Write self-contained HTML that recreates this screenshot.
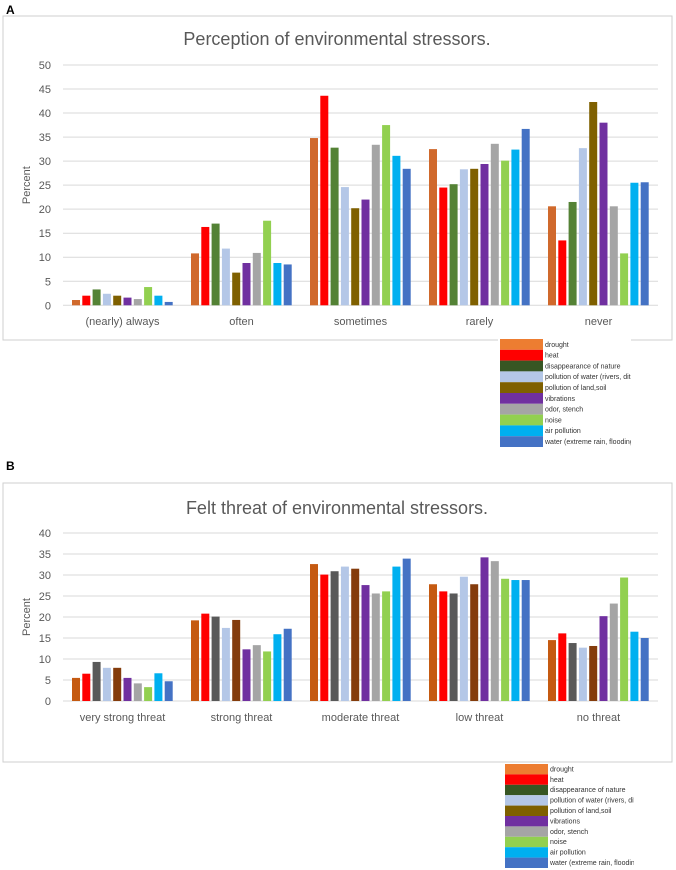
<!DOCTYPE html>
<html><head><meta charset="utf-8"><style>
body{margin:0;background:#fff;}
svg{display:block;font-family:"Liberation Sans",sans-serif;}
</style></head><body>
<svg id="s" width="676" height="870" viewBox="0 0 676 870">
<defs>
<clipPath id="cla"><rect x="498" y="337" width="133" height="112"/></clipPath>
<clipPath id="clb"><rect x="503" y="762" width="131" height="108"/></clipPath>
</defs>
<text x="6" y="14" font-size="12" font-weight="bold">A</text>
<text x="6" y="470" font-size="12" font-weight="bold">B</text>
<rect x="3" y="16" width="669" height="324" fill="#fff" stroke="#cfcfcf"/>
<rect x="3" y="483" width="669" height="279" fill="#fff" stroke="#cfcfcf"/>
<text x="337" y="45" text-anchor="middle" font-size="18" fill="#595959">Perception of environmental stressors.</text>
<text x="337" y="514" text-anchor="middle" font-size="18" fill="#595959">Felt threat of environmental stressors.</text>
<g id="ga"></g><g id="gb"></g><g id="la" clip-path="url(#cla)"></g><g id="lb" clip-path="url(#clb)"></g>
</svg>
<script>
const seriesNames=["drought","heat","disappearance of nature","pollution of water (rivers, ditches)","pollution of land,soil","vibrations","odor, stench","noise","air pollution","water (extreme rain, flooding)"];
const catsA=["(nearly) always","often","sometimes","rarely","never"];
const catsB=["very strong threat","strong threat","moderate threat","low threat","no threat"];
const valsA=[
[1.1,2.0,3.3,2.4,2.0,1.6,1.3,3.8,2.0,0.7],
[10.8,16.3,17,11.8,6.8,8.8,10.9,17.6,8.8,8.5],
[34.8,43.6,32.8,24.6,20.2,22,33.4,37.5,31.1,28.4],
[32.5,24.5,25.2,28.3,28.4,29.4,33.6,30.1,32.4,36.7],
[20.6,13.5,21.5,32.7,42.3,38,20.6,10.8,25.5,25.6]];
const valsB=[
[5.5,6.5,9.3,7.9,7.9,5.5,4.2,3.3,6.6,4.7],
[19.2,20.8,20.1,17.4,19.3,12.3,13.3,11.8,15.9,17.2],
[32.6,30.1,30.9,32,31.5,27.6,25.6,26.1,32,33.9],
[27.8,26.1,25.6,29.6,27.8,34.2,33.3,29.1,28.8,28.8],
[14.5,16.1,13.8,12.7,13.1,20.2,23.2,29.4,16.5,15]];
const ticksA=[0,5,10,15,20,25,30,35,40,45,50];
const ticksB=[0,5,10,15,20,25,30,35,40];
const colA=["#D0692C","#FF0000","#548235","#B4C7E7","#7F6000","#7030A0","#A5A5A5","#92D050","#00B0F0","#4472C4"];
const colB=["#C55A11","#FF0000","#595959","#B4C7E7","#843C0C","#7030A0","#A5A5A5","#92D050","#00B0F0","#4472C4"];
const colL=["#ED7D31","#FF0000","#375623","#B4C7E7","#7F6000","#7030A0","#A5A5A5","#92D050","#00B0F0","#4472C4"];
const NS="http://www.w3.org/2000/svg";
function mk(g,t,a){const e=document.createElementNS(NS,t);for(const k in a)e.setAttribute(k,a[k]);g.appendChild(e);return e;}
function chart(gid,cats,vals,ticks,cols,y0,yTop,labY,tag){
 const g=document.getElementById(gid);const x0=63,x1=658,max=ticks[ticks.length-1];
 const y=v=>y0-(v/max)*(y0-yTop);
 ticks.forEach(t=>{
  const l=mk(g,"line",{x1:x0,x2:x1,y1:y(t),y2:y(t),stroke:"#d9d9d9","stroke-width":1});
  
  
  const tx=mk(g,"text",{x:51,y:y(t)+4,"text-anchor":"end","font-size":11,fill:"#595959"});tx.textContent=t;
  
  
 });
 const yl=mk(g,"text",{x:0,y:0,transform:`translate(30,${(y0+yTop)/2}) rotate(-90)`,"text-anchor":"middle","font-size":11,fill:"#595959"});yl.textContent="Percent";
 
 
 const gw=(x1-x0)/cats.length,pitch=10.3,bw=8;
 cats.forEach((c,i)=>{
  const gx=x0+gw*i+(gw-pitch*10)/2;
  vals[i].forEach((v,j)=>{
   const r=mk(g,"rect",{x:gx+j*pitch+1,y:y(v),width:bw,height:y0-y(v),fill:cols[j]});
   
   
  });
  const t=mk(g,"text",{x:x0+gw*i+gw/2,y:labY,"text-anchor":"middle","font-size":11,fill:"#595959"});t.textContent=c;
  
  
 });
}
function legend(gid,x,yt,h){
 const g=document.getElementById(gid);
 mk(g,"rect",{x:x-2,y:yt-1,width:133,height:h*10+2,fill:"#fff"});
 seriesNames.forEach((n,i)=>{
  const r=mk(g,"rect",{x:x,y:yt+i*h,width:43,height:h,fill:colL[i]});
  
  
  const t=mk(g,"text",{x:x+45,y:yt+i*h+h-3,"font-size":7,fill:"#333"});t.textContent=n;
  
  
 });
}
chart("ga",catsA,valsA,ticksA,colA,305.3,65,325,"a");
chart("gb",catsB,valsB,ticksB,colB,701,533,721,"b");
legend("la",500,339,10.8);
legend("lb",505,764,10.4);
</script>
</body></html>
